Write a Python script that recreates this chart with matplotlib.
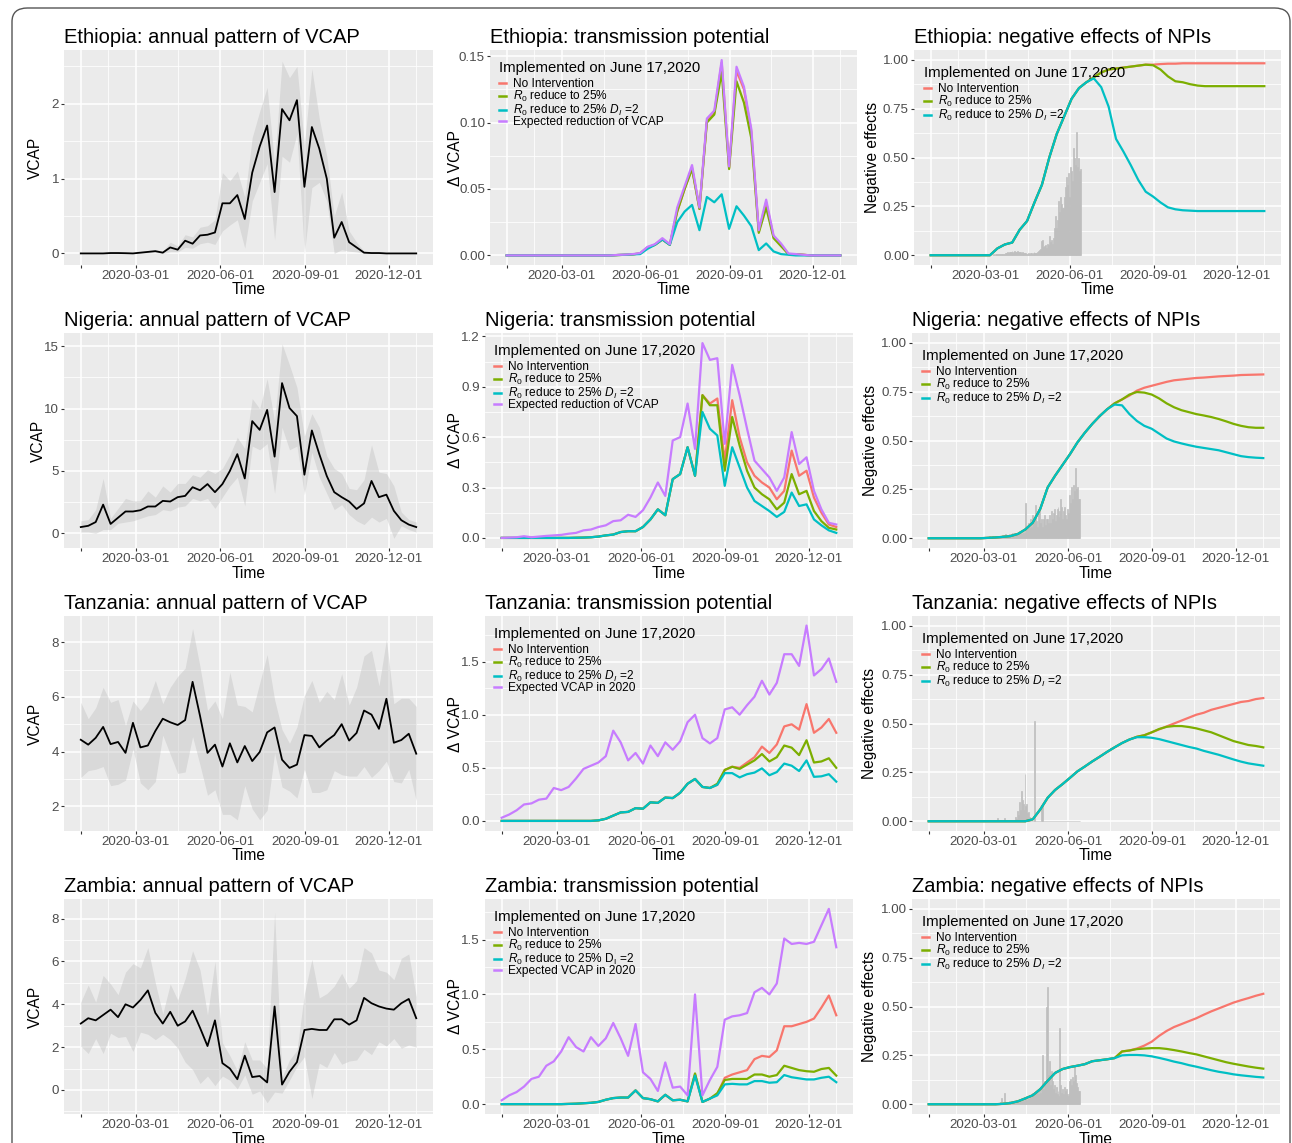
import numpy as np
import pandas as pd
import matplotlib
matplotlib.use("Agg")
import matplotlib.pyplot as plt
import matplotlib.dates as mdates
from matplotlib.patches import FancyBboxPatch
from matplotlib.lines import Line2D

plt.rcParams['font.family'] = ['Liberation Sans', 'DejaVu Sans']
plt.rcParams['mathtext.fontset'] = 'custom'
plt.rcParams['mathtext.rm'] = 'Liberation Sans'
plt.rcParams['mathtext.it'] = 'Liberation Sans:italic'
plt.rcParams['mathtext.bf'] = 'Liberation Sans:bold'

# ---------------- data ----------------
countries = ["Ethiopia", "Nigeria", "Tanzania", "Zambia"]
dates = pd.date_range("2020-01-01", "2020-12-31", periods=46)

# annual pattern of VCAP: mean, upper, lower
eth_vcap = [0, 0, 0, 0, 0.005, 0.005, 0.003, 0, 0.01, 0.02,
            0.03, 0.01, 0.08, 0.05, 0.17, 0.13, 0.24, 0.25, 0.28, 0.67,
            0.67, 0.78, 0.46, 1.08, 1.43, 1.71, 0.82, 1.93, 1.78, 2.05,
            0.89, 1.69, 1.4, 1.0, 0.21, 0.42, 0.15, 0.08, 0.01, 0.005,
            0.005, 0, 0, 0, 0, 0]
eth_hi = [0, 0, 0, 0.01, 0.01, 0.01, 0.01, 0.01, 0.02, 0.04,
          0.05, 0.03, 0.15, 0.1, 0.25, 0.22, 0.35, 0.37, 0.45, 1.08,
          0.97, 1.1, 0.75, 1.55, 1.9, 2.22, 1.2, 2.57, 2.35, 2.5,
          1.45, 2.47, 1.8, 1.3, 0.5, 0.82, 0.3, 0.15, 0.03, 0.01,
          0.01, 0, 0, 0, 0, 0]
eth_lo = [0, 0, 0, 0, 0, 0, 0, 0, 0, 0.005,
          0.01, 0, 0.02, 0.02, 0.08, 0.07, 0.13, 0.15, 0.12, 0.3,
          0.38, 0.45, 0.07, 0.7, 0.95, 1.2, 0.18, 1.3, 1.22, 1.6,
          0.0, 0.88, 0.95, 0.7, 0.0, 0.05, 0.03, 0.02, 0, 0,
          0, 0, 0, 0, 0, 0]

nga_vcap = [0.5, 0.6, 0.9, 2.3, 0.75, 1.25, 1.75, 1.75, 1.85, 2.15,
            2.15, 2.6, 2.55, 2.9, 3.0, 3.7, 3.45, 3.95, 3.3, 3.95,
            5.0, 6.35, 4.4, 9.0, 8.3, 9.9, 6.15, 12.05, 10.05, 9.4,
            4.7, 8.25, 6.35, 4.6, 3.3, 2.9, 2.55, 1.95, 2.4, 4.2,
            2.9, 3.1, 1.8, 1.05, 0.7, 0.5]
nga_hi = [1.0, 1.1, 1.9, 4.4, 1.2, 2.0, 2.8, 2.6, 2.6, 3.4,
          2.9, 3.8, 3.3, 4.0, 4.0, 4.7, 4.5, 5.1, 4.8, 5.2,
          6.3, 7.7, 6.8, 10.8, 10.0, 12.4, 9.0, 15.2, 13.5, 11.7,
          7.8, 9.6, 8.5, 6.2, 5.2, 4.8, 3.6, 3.5, 4.3, 7.1,
          4.9, 4.8, 3.8, 1.7, 1.1, 0.9]
nga_lo = [0.1, 0.1, 0.0, 0.3, 0.3, 0.8, 0.9, 1.0, 1.2, 1.4,
          1.5, 1.9, 1.8, 2.1, 2.2, 2.8, 2.6, 2.8, 2.0, 2.9,
          3.8, 4.5, 2.2, 7.0, 6.7, 7.2, 3.2, 8.5, 6.7, 7.0,
          3.1, 6.5, 4.5, 3.2, 1.9, 2.3, 1.5, 1.0, 0.7, 1.3,
          0.9, 1.2, -0.4, 0.6, 0.3, 0.1]

tza_vcap = [4.43, 4.25, 4.5, 4.9, 4.27, 4.35, 3.95, 5.05, 4.15, 4.22,
            4.75, 5.2, 5.07, 4.97, 5.15, 6.55, 5.3, 3.95, 4.25, 3.45,
            4.3, 3.6, 4.2, 3.65, 3.98, 4.7, 4.88, 3.7, 3.4, 3.52,
            4.6, 4.57, 4.15, 4.4, 4.6, 5.0, 4.4, 4.68, 5.5, 5.35,
            4.83, 5.93, 4.32, 4.42, 4.65, 3.92]
tza_hi = [5.8, 5.2, 5.6, 6.35, 5.8, 5.9, 4.95, 5.85, 5.5, 5.85,
          6.6, 5.75, 6.35, 6.75, 7.05, 8.5, 7.1, 5.5, 5.85, 5.2,
          6.9, 5.7, 5.65, 5.45, 6.5, 7.55, 5.9, 4.8, 4.3, 4.9,
          6.05, 6.6, 5.8, 6.2, 5.9, 6.85, 5.7, 6.35, 7.5, 7.7,
          6.4, 8.1, 5.75, 5.95, 5.95, 5.65]
tza_lo = [3.05, 3.3, 3.35, 3.45, 2.75, 2.8, 2.95, 4.1, 2.85, 2.6,
          2.9, 4.6, 3.9, 3.2, 3.25, 4.55, 3.5, 2.4, 2.6, 1.7,
          1.7, 1.5, 2.75, 1.9, 1.5, 1.85, 3.95, 2.7, 2.55, 2.3,
          3.35, 2.5, 2.5, 2.6, 3.3, 3.15, 3.1, 3.1, 3.45, 3.05,
          3.3, 3.65, 2.9, 2.85, 3.35, 2.2]

zmb_vcap = [3.1, 3.35, 3.25, 3.5, 3.75, 3.4, 4.0, 3.85, 4.2, 4.65,
            3.6, 3.1, 3.65, 3.0, 3.2, 3.7, 2.9, 2.05, 3.25, 1.25,
            1.0, 0.5, 1.6, 0.6, 0.65, 0.35, 3.9, 0.25, 0.85, 1.3,
            2.8, 2.85, 2.8, 2.8, 3.3, 3.3, 3.05, 3.25, 4.3, 4.05,
            3.9, 3.8, 3.75, 4.05, 4.25, 3.35]
zmb_hi = [4.1, 4.9, 4.1, 5.35, 4.95, 4.45, 5.5, 5.9, 5.7, 6.65,
          5.0, 3.55, 4.95, 4.2, 5.2, 6.5, 5.6, 3.5, 6.0, 2.2,
          1.6, 0.9, 2.25, 1.4, 1.4, 1.0, 8.3, 0.6, 1.4, 1.85,
          4.5, 6.1, 4.3, 4.5, 4.85, 5.45, 4.75, 5.1, 6.65, 6.4,
          5.6, 5.5, 5.15, 6.15, 6.35, 4.35]
zmb_lo = [2.05, 1.7, 2.4, 1.7, 2.65, 2.45, 2.5, 1.8, 2.7, 2.6,
          2.35, 2.6, 2.35, 1.95, 1.3, 0.95, 0.3, 0.65, 0.2, 0.65,
          0.45, 0.05, 0.7, -0.2, -0.05, -0.6, -0.1, -0.15, 0.45, 1.1,
          1.55, -0.4, 1.25, 1.05, 1.75, 1.2, 1.35, 1.4, 1.9, 1.65,
          2.25, 2.05, 2.4, 1.95, 2.1, 2.0]

# transmission potential (delta VCAP)
eth_tp_none = [0, 0, 0, 0, 0, 0, 0, 0, 0, 0,
               0, 0, 0, 0, 0, 0.0003, 0.0005, 0.0008, 0.0015, 0.006,
               0.008, 0.012, 0.008, 0.033, 0.05, 0.066, 0.035, 0.101, 0.107, 0.145,
               0.066, 0.139, 0.125, 0.093, 0.018, 0.04, 0.014, 0.008, 0.001, 0.001,
               0.0005, 0, 0, 0, 0, 0]
eth_tp_r0 = [0, 0, 0, 0, 0, 0, 0, 0, 0, 0,
             0, 0, 0, 0, 0, 0.0003, 0.0005, 0.0008, 0.0015, 0.006,
             0.008, 0.012, 0.008, 0.033, 0.05, 0.065, 0.035, 0.1, 0.106, 0.138,
             0.065, 0.131, 0.115, 0.088, 0.017, 0.036, 0.013, 0.007, 0.001, 0.001,
             0.0005, 0, 0, 0, 0, 0]
eth_tp_di = [0, 0, 0, 0, 0, 0, 0, 0, 0, 0,
             0, 0, 0, 0, 0, 0.0003, 0.0005, 0.0008, 0.001, 0.005,
             0.008, 0.012, 0.008, 0.025, 0.033, 0.038, 0.019, 0.044, 0.04, 0.046,
             0.02, 0.037, 0.03, 0.022, 0.004, 0.009, 0.003, 0.001, 0.0005, 0,
             0, 0, 0, 0, 0, 0]
eth_tp_exp = [0, 0, 0, 0, 0, 0, 0, 0, 0, 0,
              0, 0, 0, 0, 0, 0.0004, 0.0006, 0.001, 0.0018, 0.0065,
              0.0085, 0.013, 0.0085, 0.036, 0.052, 0.068, 0.036, 0.103, 0.109, 0.147,
              0.067, 0.142, 0.127, 0.095, 0.019, 0.042, 0.015, 0.009, 0.0015, 0.001,
              0.0005, 0, 0, 0, 0, 0]

nga_tp_none = [0, 0, 0, 0, 0, 0, 0, 0, 0, 0,
               0.001, 0.002, 0.004, 0.008, 0.015, 0.02, 0.035, 0.04, 0.04, 0.065,
               0.11, 0.17, 0.135, 0.35, 0.38, 0.54, 0.37, 0.85, 0.80, 0.83,
               0.46, 0.82, 0.6, 0.45, 0.37, 0.33, 0.3, 0.23, 0.28, 0.52,
               0.37, 0.4, 0.24, 0.15, 0.08, 0.065]
nga_tp_r0 = [0, 0, 0, 0, 0, 0, 0, 0, 0, 0,
             0.001, 0.002, 0.004, 0.008, 0.015, 0.02, 0.035, 0.04, 0.04, 0.065,
             0.11, 0.17, 0.135, 0.35, 0.38, 0.54, 0.37, 0.85, 0.79, 0.79,
             0.40, 0.72, 0.55, 0.4, 0.3, 0.26, 0.23, 0.17, 0.21, 0.38,
             0.26, 0.28, 0.16, 0.1, 0.06, 0.05]
nga_tp_di = [0, 0, 0, 0, 0, 0, 0, 0, 0, 0,
             0.001, 0.002, 0.004, 0.008, 0.015, 0.02, 0.035, 0.04, 0.04, 0.065,
             0.11, 0.17, 0.135, 0.35, 0.38, 0.54, 0.37, 0.75, 0.65, 0.61,
             0.31, 0.54, 0.42, 0.3, 0.22, 0.19, 0.16, 0.125, 0.155, 0.27,
             0.19, 0.2, 0.11, 0.075, 0.045, 0.03]
nga_tp_exp = [0, 0.002, 0.004, 0.01, 0.004, 0.008, 0.012, 0.015, 0.018, 0.025,
              0.03, 0.045, 0.05, 0.065, 0.075, 0.1, 0.105, 0.138, 0.125, 0.165,
              0.24, 0.33, 0.25, 0.58, 0.6, 0.8, 0.53, 1.16, 1.06, 1.07,
              0.56, 1.03, 0.85, 0.65, 0.46, 0.41, 0.36, 0.28, 0.36, 0.63,
              0.44, 0.48, 0.28, 0.17, 0.09, 0.08]

tza_tp_none = [0, 0, 0, 0, 0, 0, 0, 0, 0, 0,
               0, 0, 0, 0.005, 0.02, 0.05, 0.08, 0.085, 0.12, 0.115,
               0.175, 0.17, 0.22, 0.215, 0.265, 0.35, 0.395, 0.32, 0.31, 0.34,
               0.48, 0.51, 0.5, 0.55, 0.6, 0.7, 0.64, 0.72, 0.89, 0.91,
               0.86, 1.1, 0.83, 0.88, 0.96, 0.83]
tza_tp_r0 = [0, 0, 0, 0, 0, 0, 0, 0, 0, 0,
             0, 0, 0, 0.005, 0.02, 0.05, 0.08, 0.085, 0.12, 0.115,
             0.175, 0.17, 0.22, 0.215, 0.265, 0.35, 0.395, 0.32, 0.31, 0.35,
             0.48, 0.51, 0.49, 0.53, 0.57, 0.63, 0.56, 0.6, 0.71, 0.69,
             0.62, 0.76, 0.55, 0.56, 0.59, 0.5]
tza_tp_di = [0, 0, 0, 0, 0, 0, 0, 0, 0, 0,
             0, 0, 0, 0.005, 0.02, 0.05, 0.08, 0.085, 0.12, 0.115,
             0.175, 0.17, 0.22, 0.215, 0.265, 0.35, 0.395, 0.32, 0.31, 0.34,
             0.45, 0.45, 0.41, 0.44, 0.455, 0.495, 0.43, 0.46, 0.54, 0.52,
             0.47, 0.57, 0.415, 0.42, 0.44, 0.37]
tza_tp_exp = [0.03, 0.06, 0.1, 0.155, 0.165, 0.2, 0.21, 0.31, 0.29, 0.32,
              0.4, 0.49, 0.52, 0.55, 0.61, 0.85, 0.74, 0.57, 0.64, 0.54,
              0.71, 0.61, 0.74, 0.67, 0.75, 0.93, 1.0, 0.78, 0.73, 0.78,
              1.05, 1.07, 1.0, 1.09, 1.17, 1.32, 1.19, 1.3, 1.57, 1.57,
              1.46, 1.84, 1.37, 1.43, 1.53, 1.31]

zmb_tp_none = [0, 0, 0, 0, 0, 0, 0, 0, 0, 0.002,
               0.004, 0.008, 0.012, 0.02, 0.04, 0.055, 0.06, 0.06, 0.125, 0.055,
               0.045, 0.025, 0.085, 0.035, 0.04, 0.025, 0.27, 0.02, 0.05, 0.09,
               0.24, 0.27, 0.29, 0.31, 0.41, 0.44, 0.43, 0.49, 0.71, 0.71,
               0.73, 0.75, 0.78, 0.88, 0.99, 0.81]
zmb_tp_r0 = [0, 0, 0, 0, 0, 0, 0, 0, 0, 0.002,
             0.004, 0.008, 0.012, 0.02, 0.04, 0.055, 0.06, 0.06, 0.125, 0.055,
             0.045, 0.025, 0.085, 0.035, 0.04, 0.025, 0.28, 0.02, 0.05, 0.1,
             0.22, 0.23, 0.23, 0.23, 0.27, 0.27, 0.25, 0.265, 0.35, 0.33,
             0.31, 0.3, 0.295, 0.32, 0.33, 0.26]
zmb_tp_di = [0, 0, 0, 0, 0, 0, 0, 0, 0, 0.002,
             0.004, 0.008, 0.012, 0.02, 0.04, 0.055, 0.06, 0.06, 0.125, 0.055,
             0.045, 0.025, 0.085, 0.035, 0.04, 0.025, 0.26, 0.02, 0.05, 0.08,
             0.18, 0.185, 0.18, 0.18, 0.21, 0.21, 0.195, 0.2, 0.265, 0.245,
             0.235, 0.225, 0.225, 0.24, 0.25, 0.2]
zmb_tp_exp = [0.035, 0.08, 0.11, 0.16, 0.23, 0.25, 0.35, 0.39, 0.48, 0.61,
              0.52, 0.48, 0.61, 0.53, 0.6, 0.74, 0.6, 0.44, 0.73, 0.29,
              0.23, 0.12, 0.38, 0.15, 0.16, 0.08, 1.0, 0.08, 0.22, 0.34,
              0.77, 0.8, 0.81, 0.83, 1.02, 1.06, 1.0, 1.1, 1.51, 1.46,
              1.47, 1.46, 1.48, 1.63, 1.78, 1.43]

# negative effects of NPIs
eth_ne_none = [0, 0, 0, 0, 0, 0, 0, 0, 0, 0.035,
               0.055, 0.065, 0.13, 0.175, 0.27, 0.36, 0.5, 0.62, 0.71, 0.8,
               0.855, 0.885, 0.91, 0.935, 0.95, 0.955, 0.96, 0.965, 0.97, 0.975,
               0.975, 0.978, 0.98, 0.98, 0.982, 0.982, 0.982, 0.982, 0.982, 0.982,
               0.982, 0.982, 0.982, 0.982, 0.982, 0.982]
eth_ne_r0 = [0, 0, 0, 0, 0, 0, 0, 0, 0, 0.035,
             0.055, 0.065, 0.13, 0.175, 0.27, 0.36, 0.5, 0.62, 0.71, 0.8,
             0.855, 0.885, 0.91, 0.935, 0.95, 0.955, 0.96, 0.965, 0.97, 0.975,
             0.972, 0.95, 0.915, 0.89, 0.885, 0.875, 0.868, 0.865, 0.865, 0.865,
             0.865, 0.865, 0.865, 0.865, 0.865, 0.865]
eth_ne_di = [0, 0, 0, 0, 0, 0, 0, 0, 0, 0.035,
             0.055, 0.065, 0.13, 0.175, 0.27, 0.36, 0.5, 0.62, 0.71, 0.8,
             0.855, 0.885, 0.905, 0.86, 0.76, 0.595, 0.53, 0.46, 0.385, 0.325,
             0.3, 0.27, 0.245, 0.235, 0.23, 0.228, 0.226, 0.226, 0.226, 0.226,
             0.226, 0.226, 0.226, 0.226, 0.226, 0.226]

nga_ne_none = [0, 0, 0, 0, 0, 0, 0, 0, 0.002, 0.004,
               0.007, 0.011, 0.022, 0.045, 0.08, 0.15, 0.26, 0.32, 0.375, 0.43,
               0.49, 0.54, 0.585, 0.625, 0.66, 0.69, 0.71, 0.73, 0.755, 0.77,
               0.78, 0.79, 0.8, 0.808, 0.812, 0.816, 0.82, 0.822, 0.825, 0.828,
               0.83, 0.832, 0.835, 0.836, 0.837, 0.838]
nga_ne_r0 = [0, 0, 0, 0, 0, 0, 0, 0, 0.002, 0.004,
             0.007, 0.011, 0.022, 0.045, 0.08, 0.15, 0.26, 0.32, 0.375, 0.43,
             0.49, 0.54, 0.585, 0.625, 0.66, 0.69, 0.71, 0.735, 0.748, 0.745,
             0.735, 0.715, 0.69, 0.67, 0.655, 0.645, 0.635, 0.628, 0.62, 0.61,
             0.598, 0.585, 0.575, 0.568, 0.565, 0.565]
nga_ne_di = [0, 0, 0, 0, 0, 0, 0, 0, 0.002, 0.004,
             0.007, 0.011, 0.022, 0.045, 0.08, 0.15, 0.26, 0.32, 0.375, 0.43,
             0.49, 0.54, 0.585, 0.625, 0.66, 0.684, 0.68, 0.635, 0.6, 0.575,
             0.56, 0.535, 0.51, 0.495, 0.485, 0.476, 0.468, 0.462, 0.456, 0.45,
             0.44, 0.43, 0.42, 0.415, 0.412, 0.41]

tza_ne_none = [0, 0, 0, 0, 0, 0, 0, 0, 0, 0,
               0, 0, 0, 0, 0.01, 0.06, 0.12, 0.16, 0.19, 0.222,
               0.255, 0.28, 0.306, 0.33, 0.355, 0.378, 0.4, 0.418, 0.432, 0.44,
               0.455, 0.47, 0.485, 0.5, 0.515, 0.53, 0.545, 0.555, 0.57, 0.58,
               0.59, 0.6, 0.61, 0.615, 0.625, 0.63]
tza_ne_r0 = [0, 0, 0, 0, 0, 0, 0, 0, 0, 0,
             0, 0, 0, 0, 0.01, 0.06, 0.12, 0.16, 0.19, 0.222,
             0.255, 0.28, 0.306, 0.33, 0.355, 0.378, 0.4, 0.418, 0.432, 0.44,
             0.455, 0.472, 0.483, 0.487, 0.487, 0.482, 0.475, 0.465, 0.455, 0.44,
             0.425, 0.41, 0.4, 0.39, 0.385, 0.378]
tza_ne_di = [0, 0, 0, 0, 0, 0, 0, 0, 0, 0,
             0, 0, 0, 0, 0.01, 0.06, 0.12, 0.16, 0.19, 0.222,
             0.255, 0.28, 0.306, 0.33, 0.355, 0.378, 0.4, 0.418, 0.43, 0.43,
             0.427, 0.42, 0.41, 0.4, 0.39, 0.38, 0.372, 0.36, 0.35, 0.34,
             0.328, 0.316, 0.305, 0.296, 0.29, 0.284]

zmb_ne_none = [0, 0, 0, 0, 0, 0, 0, 0, 0, 0,
               0.002, 0.006, 0.015, 0.03, 0.046, 0.077, 0.12, 0.16, 0.18, 0.19,
               0.197, 0.205, 0.22, 0.225, 0.23, 0.236, 0.27, 0.275, 0.285, 0.3,
               0.32, 0.35, 0.375, 0.395, 0.41, 0.425, 0.44, 0.458, 0.475, 0.49,
               0.505, 0.52, 0.532, 0.543, 0.555, 0.565]
zmb_ne_r0 = [0, 0, 0, 0, 0, 0, 0, 0, 0, 0,
             0.002, 0.006, 0.015, 0.03, 0.046, 0.077, 0.12, 0.16, 0.18, 0.19,
             0.197, 0.205, 0.22, 0.225, 0.23, 0.236, 0.27, 0.275, 0.282, 0.285,
             0.287, 0.287, 0.283, 0.277, 0.27, 0.262, 0.255, 0.245, 0.235, 0.225,
             0.215, 0.207, 0.2, 0.193, 0.187, 0.182]
zmb_ne_di = [0, 0, 0, 0, 0, 0, 0, 0, 0, 0,
             0.002, 0.006, 0.015, 0.03, 0.046, 0.077, 0.12, 0.16, 0.18, 0.19,
             0.197, 0.205, 0.22, 0.225, 0.23, 0.236, 0.25, 0.252, 0.252, 0.25,
             0.245, 0.237, 0.228, 0.218, 0.21, 0.2, 0.192, 0.183, 0.174, 0.166,
             0.16, 0.153, 0.148, 0.144, 0.14, 0.137]

# daily grey bars (ending 2020-06-13)
eth_bars = [0.003, 0.004, 0.003, 0.005, 0.004, 0.006, 0.005, 0.004, 0.006, 0.005,
            0.007, 0.006, 0.008, 0.007, 0.009,
            0.012, 0.015, 0.01, 0.018, 0.014, 0.016, 0.02, 0.013, 0.017, 0.021,
            0.015, 0.018, 0.022, 0.016, 0.014, 0.019, 0.012, 0.015, 0.01, 0.013,
            0.009, 0.011,
            0.008, 0.006, 0.01, 0.007, 0.009, 0.012, 0.008, 0.01, 0.014, 0.011,
            0.009, 0.013, 0.016, 0.02, 0.025, 0.03,
            0.075, 0.08, 0.04, 0.03, 0.045, 0.05, 0.035, 0.06, 0.05,
            0.1, 0.07, 0.08, 0.06, 0.09, 0.14, 0.11,
            0.2, 0.14, 0.18, 0.28, 0.22, 0.3, 0.26, 0.24,
            0.24, 0.3, 0.35, 0.28, 0.4, 0.36, 0.42,
            0.3, 0.45, 0.43, 0.38, 0.55, 0.5, 0.46, 0.4, 0.63, 0.45, 0.5, 0.43, 0.44]
nga_bars = [0.004, 0.005, 0.003, 0.006, 0.004, 0.005, 0.007, 0.004, 0.006, 0.005,
            0.008, 0.006, 0.005, 0.007, 0.009, 0.006, 0.008, 0.007, 0.01, 0.008,
            0.006, 0.009, 0.011, 0.008, 0.01, 0.012, 0.009, 0.011, 0.014, 0.012,
            0.015, 0.018, 0.02,
            0.012, 0.018, 0.015, 0.022, 0.016, 0.02, 0.025, 0.018, 0.022, 0.026,
            0.02, 0.024, 0.028, 0.022, 0.025, 0.03, 0.024, 0.028, 0.03, 0.026, 0.03,
            0.18, 0.04, 0.06, 0.08, 0.05, 0.1,
            0.06, 0.12, 0.08, 0.1, 0.17, 0.07, 0.09, 0.06, 0.15,
            0.15, 0.08, 0.1, 0.06, 0.1, 0.12, 0.07, 0.1, 0.09, 0.1, 0.08,
            0.12, 0.08, 0.14, 0.1, 0.13, 0.15, 0.09, 0.12, 0.15, 0.16, 0.11, 0.14, 0.2, 0.16,
            0.1, 0.14, 0.16, 0.12, 0.1, 0.15, 0.13, 0.12,
            0.22, 0.18, 0.26, 0.2, 0.27, 0.24, 0.36, 0.25, 0.26, 0.2, 0.2]
tza_bars = [0, 0, 0, 0, 0, 0.015, 0, 0, 0, 0,
            0, 0, 0, 0.015, 0, 0, 0, 0, 0, 0,
            0, 0, 0, 0, 0, 0.02, 0.01, 0.05, 0.03, 0.1,
            0.06, 0.155, 0.11, 0.09, 0.06, 0.24, 0.08, 0.09, 0.04, 0.045,
            0.02, 0, 0, 0, 0, 0.515, 0, 0, 0, 0,
            0, 0, 0, 0.085, 0.08, 0, 0, 0, 0, 0,
            0, 0, 0, 0, 0, 0, 0, 0, 0, 0,
            0, 0, 0, 0, 0, 0, 0, 0, 0, 0,
            0, 0, 0, 0, 0, 0, 0, 0, 0, 0,
            0, 0, 0, 0, 0]
zmb_bars = [0.002, 0.003, 0.002, 0.004, 0.005, 0.003, 0.006, 0.004, 0.01, 0.03,
            0.008, 0.006, 0.012, 0.055, 0.01,
            0.008, 0.012, 0.006, 0.015, 0.01, 0.018, 0.009, 0.014, 0.02, 0.012,
            0.016, 0.01, 0.018, 0.022, 0.014, 0.02, 0.016, 0.024, 0.018, 0.026,
            0.02, 0.03, 0.022, 0.028, 0.025,
            0.03, 0.045, 0.035, 0.06, 0.04, 0.05, 0.055, 0.045, 0.06, 0.07,
            0.05, 0.08, 0.06, 0.09, 0.25, 0.08, 0.12, 0.1, 0.5, 0.3,
            0.6, 0.15, 0.22, 0.1, 0.17, 0.12, 0.08, 0.1, 0.06, 0.09,
            0.05, 0.07, 0.04, 0.39, 0.1, 0.06, 0.08, 0.05, 0.09, 0.07,
            0.08, 0.05, 0.04, 0.06, 0.12, 0.13, 0.1, 0.14, 0.12, 0.2,
            0.15, 0.11, 0.09, 0.07, 0.07]

vcap_data = [(eth_vcap, eth_lo, eth_hi), (nga_vcap, nga_lo, nga_hi),
             (tza_vcap, tza_lo, tza_hi), (zmb_vcap, zmb_lo, zmb_hi)]
tp_data = [(eth_tp_none, eth_tp_r0, eth_tp_di, eth_tp_exp),
           (nga_tp_none, nga_tp_r0, nga_tp_di, nga_tp_exp),
           (tza_tp_none, tza_tp_r0, tza_tp_di, tza_tp_exp),
           (zmb_tp_none, zmb_tp_r0, zmb_tp_di, zmb_tp_exp)]
ne_data = [(eth_ne_none, eth_ne_r0, eth_ne_di), (nga_ne_none, nga_ne_r0, nga_ne_di),
           (tza_ne_none, tza_ne_r0, tza_ne_di), (zmb_ne_none, zmb_ne_r0, zmb_ne_di)]
bar_data = [eth_bars, nga_bars, tza_bars, zmb_bars]

vcap_ticks = [[0, 1, 2], [0, 5, 10, 15], [2, 4, 6, 8], [0, 2, 4, 6, 8]]
vcap_tlabels = [["0", "1", "2"], ["0", "5", "10", "15"], ["2", "4", "6", "8"], ["0", "2", "4", "6", "8"]]
vcap_ylims = [(-0.155, 2.72), (-1.18, 16.07), (1.09, 8.96), (-1.125, 8.92)]
tp_ticks = [[0, 0.05, 0.10, 0.15], [0, 0.3, 0.6, 0.9, 1.2], [0, 0.5, 1.0, 1.5], [0, 0.5, 1.0, 1.5]]
tp_tlabels = [["0.00", "0.05", "0.10", "0.15"], ["0.0", "0.3", "0.6", "0.9", "1.2"],
              ["0.0", "0.5", "1.0", "1.5"], ["0.0", "0.5", "1.0", "1.5"]]
tp_ylims = [(-0.0072, 0.1546), (-0.06, 1.22), (-0.095, 1.93), (-0.09, 1.87)]
ne_ticks = [0, 0.25, 0.5, 0.75, 1.0]
ne_tlabels = ["0.00", "0.25", "0.50", "0.75", "1.00"]
ne_ylim = (-0.05, 1.05)

legend_title = "Implemented on June 17,2020"
tp_labels = [
    ["No Intervention", r"$R_0$ reduce to 25%", r"$R_0$ reduce to 25% $D_I$ =2", "Expected reduction of VCAP"],
    ["No Intervention", r"$R_0$ reduce to 25%", r"$R_0$ reduce to 25% $D_I$ =2", "Expected reduction of VCAP"],
    ["No Intervention", r"$R_0$ reduce to 25%", r"$R_0$ reduce to 25% $D_I$ =2", "Expected VCAP in 2020"],
    ["No Intervention", r"$R_0$ reduce to 25%", r"$R_0$ reduce to 25% D$_\mathrm{I}$ =2", "Expected VCAP in 2020"],
]
ne_labels = ["No Intervention", r"$R_0$ reduce to 25%", r"$R_0$ reduce to 25% $D_I$ =2"]

x_major = pd.to_datetime(["2020-01-01", "2020-03-01", "2020-06-01", "2020-09-01", "2020-12-01"])
x_major_labels = ["", "2020-03-01", "2020-06-01", "2020-09-01", "2020-12-01"]
x_minor = pd.to_datetime(["2020-01-31", "2020-04-16", "2020-07-17", "2020-10-16", "2020-12-31"])

COLORS = ["#F8766D", "#7CAE00", "#00BFC4", "#C77CFF"]
PANEL_BG = "#EBEBEB"

# ---------------- layout ----------------
W, H = 1292, 1143
fig = plt.figure(figsize=(W / 100, H / 100), dpi=100)
fig.patch.set_facecolor("white")

border = FancyBboxPatch((12 / W, 1 - 1180 / H), (1290 - 12) / W, (1180 - 8) / H,
                        boxstyle="round,pad=0,rounding_size=0.012",
                        transform=fig.transFigure, fill=False,
                        edgecolor="#555555", linewidth=1.0)
fig.patches.append(border)

row_tops = [50, 333, 616, 899]
PH = 215
col_lr = {
    0: [(64, 433)] * 4,
    1: [(490, 857), (485, 853), (485, 853), (485, 853)],
    2: [(914, 1281), (912, 1280), (912, 1280), (912, 1280)],
}
ylab_off = {0: [-29, -26, -29, -29], 1: [-35, -30, -30, -30], 2: [-41, -42, -43, -43]}

xlo = pd.Timestamp("2020-01-01") - pd.Timedelta(days=18.25)
xhi = pd.Timestamp("2020-12-31") + pd.Timedelta(days=18.25)


def make_ax(r, c):
    l, rr = col_lr[c][r]
    t = row_tops[r]
    b = t + PH
    ax = fig.add_axes([l / W, 1 - b / H, (rr - l) / W, PH / H])
    return ax, rr - l


def style(ax, r, c, wpx, yticks, ylabels, ylim, title, ylabel):
    ax.set_facecolor(PANEL_BG)
    ax.set_xlim(xlo, xhi)
    ax.set_ylim(*ylim)
    ax.set_xticks(x_major)
    ax.set_xticklabels(x_major_labels)
    ax.set_xticks(x_minor, minor=True)
    ax.set_yticks(yticks)
    ax.set_yticklabels(ylabels)
    step = yticks[1] - yticks[0]
    cand = [yticks[0] - step / 2] + [y + step / 2 for y in yticks]
    ax.set_yticks([y for y in cand if ylim[0] < y < ylim[1]], minor=True)
    ax.grid(which="major", color="white", linewidth=1.1)
    ax.grid(which="minor", color="white", linewidth=0.55)
    ax.set_axisbelow(True)
    for s in ax.spines.values():
        s.set_visible(False)
    ax.tick_params(which="major", length=2.4, width=0.8, color="#333333",
                   labelsize=9.6, labelcolor="#4D4D4D", pad=1.2)
    ax.tick_params(which="minor", length=0)
    ax.set_title(title, loc="left", fontsize=14.5, pad=5, color="black")
    ax.set_xlabel("Time", fontsize=11.2)
    ax.xaxis.set_label_coords(0.5, -25 / PH)
    ax.xaxis.label.set_verticalalignment("center")
    ax.set_ylabel(ylabel, fontsize=11.2)
    ax.yaxis.set_label_coords(ylab_off[c][r] / wpx, 0.5)
    ax.yaxis.label.set_verticalalignment("center")


def add_legend(ax, labels, wpx, dx, dy):
    handles = [Line2D([0], [0], color=COLORS[i], lw=1.8) for i in range(len(labels))]
    leg = ax.legend(handles, labels, title=legend_title, loc="upper left",
                    bbox_to_anchor=(dx / wpx, 1 - dy / PH), frameon=False,
                    fontsize=8.6, title_fontsize=10.7, handlelength=0.6,
                    handletextpad=0.6, labelspacing=-0.12, borderpad=0,
                    borderaxespad=0, alignment="left")
    leg._legend_box.sep = 2.5
    return leg


for r, name in enumerate(countries):
    # column 1: annual pattern of VCAP
    ax, wpx = make_ax(r, 0)
    mean, lo, hi = vcap_data[r]
    ax.fill_between(dates, lo, hi, color="#BEBEBE", alpha=0.4, linewidth=0)
    ax.plot(dates, mean, color="black", lw=1.3)
    style(ax, r, 0, wpx, vcap_ticks[r], vcap_tlabels[r], vcap_ylims[r],
          f"{name}: annual pattern of VCAP", "VCAP")

    # column 2: transmission potential
    ax, wpx = make_ax(r, 1)
    for i, series in enumerate(tp_data[r]):
        ax.plot(dates, series, color=COLORS[i], lw=1.6)
    style(ax, r, 1, wpx, tp_ticks[r], tp_tlabels[r], tp_ylims[r],
          f"{name}: transmission potential", "Δ VCAP")
    add_legend(ax, tp_labels[r], wpx, 9, 11)

    # column 3: negative effects of NPIs
    ax, wpx = make_ax(r, 2)
    bvals = bar_data[r]
    bdates = pd.date_range(end="2020-06-13", periods=len(bvals))
    ax.bar(bdates, bvals, width=1.0, color="#BEBEBE", edgecolor="#BEBEBE", linewidth=0.5)
    for i, series in enumerate(ne_data[r]):
        ax.plot(dates, series, color=COLORS[i], lw=1.6)
    style(ax, r, 2, wpx, ne_ticks, ne_tlabels, ne_ylim,
          f"{name}: negative effects of NPIs", "Negative effects")
    add_legend(ax, ne_labels, wpx, 10, 16)

fig.savefig("out.png", dpi=100, facecolor="white")
